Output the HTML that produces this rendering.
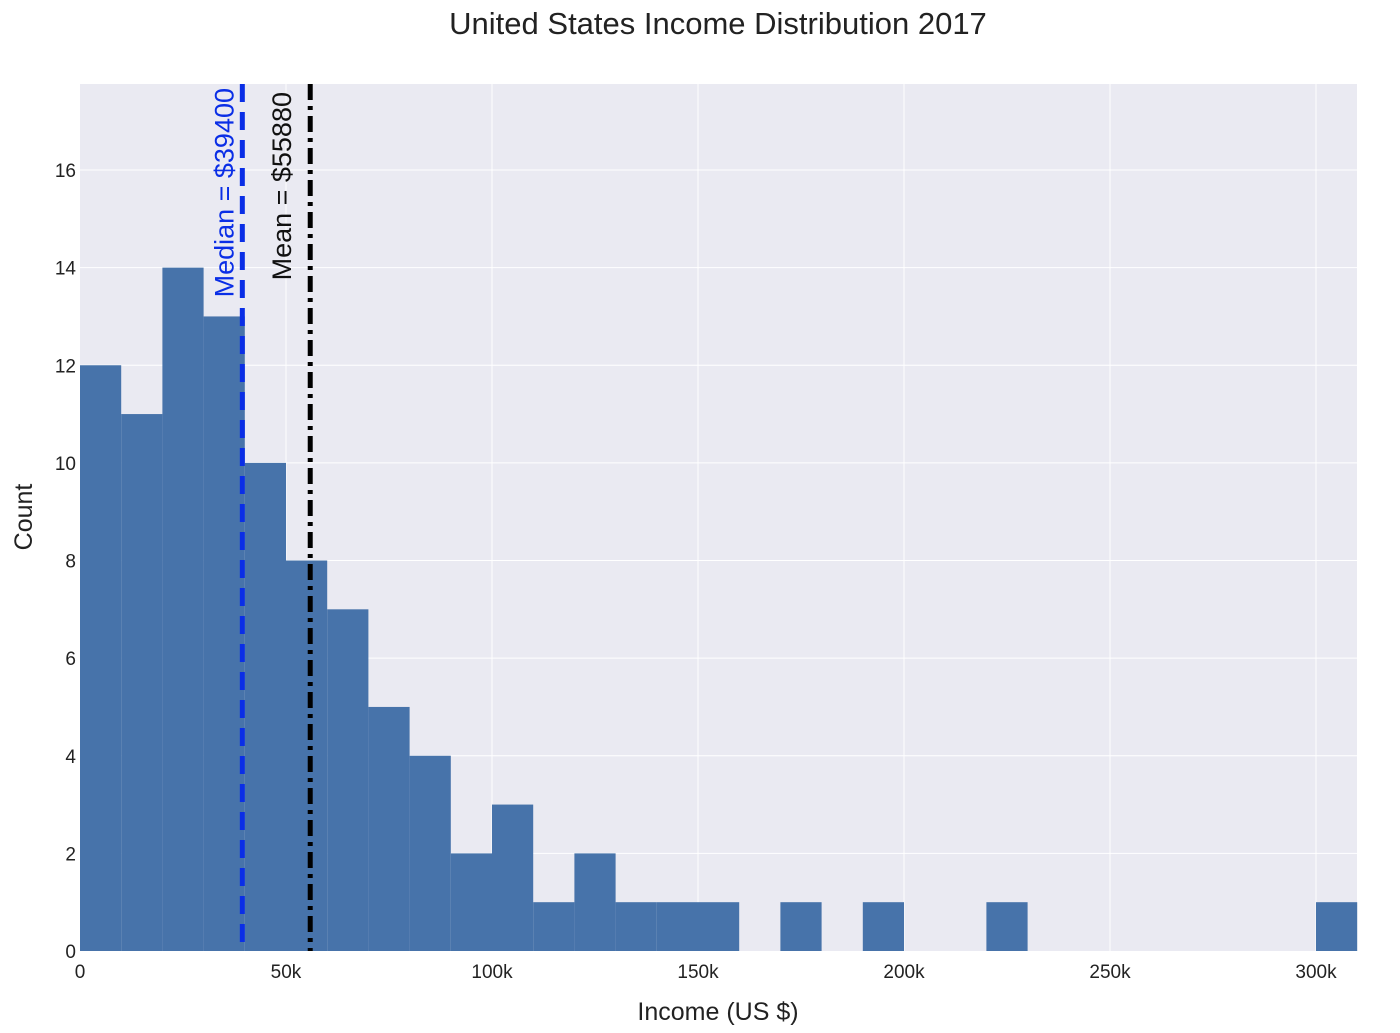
<!DOCTYPE html>
<html><head><meta charset="utf-8"><style>
body{margin:0;background:#fff;}
svg{font-family:"Liberation Sans",sans-serif;}
</style></head><body>
<svg id="chart" width="1400" height="1028">
<text x="718" y="34" text-anchor="middle" font-size="31" fill="#222">United States Income Distribution 2017</text>
<rect x="80" y="84" width="1277" height="867" fill="#eaeaf2"/>
<g id="grid"></g><g id="bars"></g><g id="lines"></g><g id="ticks"></g>
<text x="718" y="1020" text-anchor="middle" font-size="25" fill="#222">Income (US $)</text>
<text transform="translate(32,517) rotate(-90)" text-anchor="middle" font-size="25" fill="#222">Count</text>
</svg>
<script>
const binStarts=[0,10,20,30,40,50,60,70,80,90,100,110,120,130,140,150,160,170,180,190,200,210,220,230,240,250,260,270,280,290,300];
const counts=[12,11,14,13,10,8,7,5,4,2,3,1,2,1,1,1,0,1,0,1,0,0,1,0,0,0,0,0,0,0,1];
const xTicks=[0,50,100,150,200,250,300];
const xTickLabels=["0","50k","100k","150k","200k","250k","300k"];
const yTicks=[0,2,4,6,8,10,12,14,16];
const medianVal=39400, meanVal=55880;
const binWidth=10;
const X0=80,XPPK=206/50,Y0=951,YPU=781/16,TOP=84,RIGHT=1357;
const sx=k=>X0+k*XPPK, sy=v=>Y0-v*YPU;
const NS="http://www.w3.org/2000/svg";
function mk(t,a,p){const e=document.createElementNS(NS,t);for(const k in a)e.setAttribute(k,a[k]);document.getElementById(p).appendChild(e);return e;}
yTicks.forEach(v=>{
 if(v>0){const l=mk('line',{x1:X0,x2:RIGHT,y1:sy(v),y2:sy(v),stroke:'#fff','stroke-width':1},'grid');
 
 }
 const t=mk('text',{x:X0-4,y:sy(v)+7,'text-anchor':'end','font-size':19,fill:'#222'},'ticks');t.textContent=v;
 
 
});
xTicks.forEach((v,i)=>{
 if(v>0){const l=mk('line',{x1:sx(v),x2:sx(v),y1:TOP,y2:Y0,stroke:'#fff','stroke-width':1},'grid');
 
 }
 const t=mk('text',{x:sx(v),y:978,'text-anchor':'middle','font-size':19,fill:'#222'},'ticks');t.textContent=xTickLabels[i];
 
 
});
binStarts.forEach((b,i)=>{
 if(!counts[i])return;
 const r=mk('rect',{x:sx(b),y:sy(counts[i]),width:sx(b+binWidth)-sx(b),height:Y0-sy(counts[i]),fill:'#4773aa'},'bars');
 
 
});
const mx=sx(medianVal/1000), mn=sx(meanVal/1000);
let l=mk('line',{x1:mx,x2:mx,y1:TOP,y2:Y0,stroke:'#0a2ee6','stroke-width':5,'stroke-dasharray':'18,10'},'lines');


l=mk('line',{x1:mn,x2:mn,y1:TOP,y2:Y0,stroke:'#000','stroke-width':5,'stroke-dasharray':'16,6,4,6'},'lines');


let t=mk('text',{transform:`translate(${mx-9},88) rotate(-90)`,'text-anchor':'end','font-size':27,fill:'#0a2ee6'},'lines');
t.textContent='Median = $'+medianVal;


t=mk('text',{transform:`translate(${mn-19},92) rotate(-90)`,'text-anchor':'end','font-size':27,fill:'#111'},'lines');
t.textContent='Mean = $'+meanVal;


</script>
</body></html>
